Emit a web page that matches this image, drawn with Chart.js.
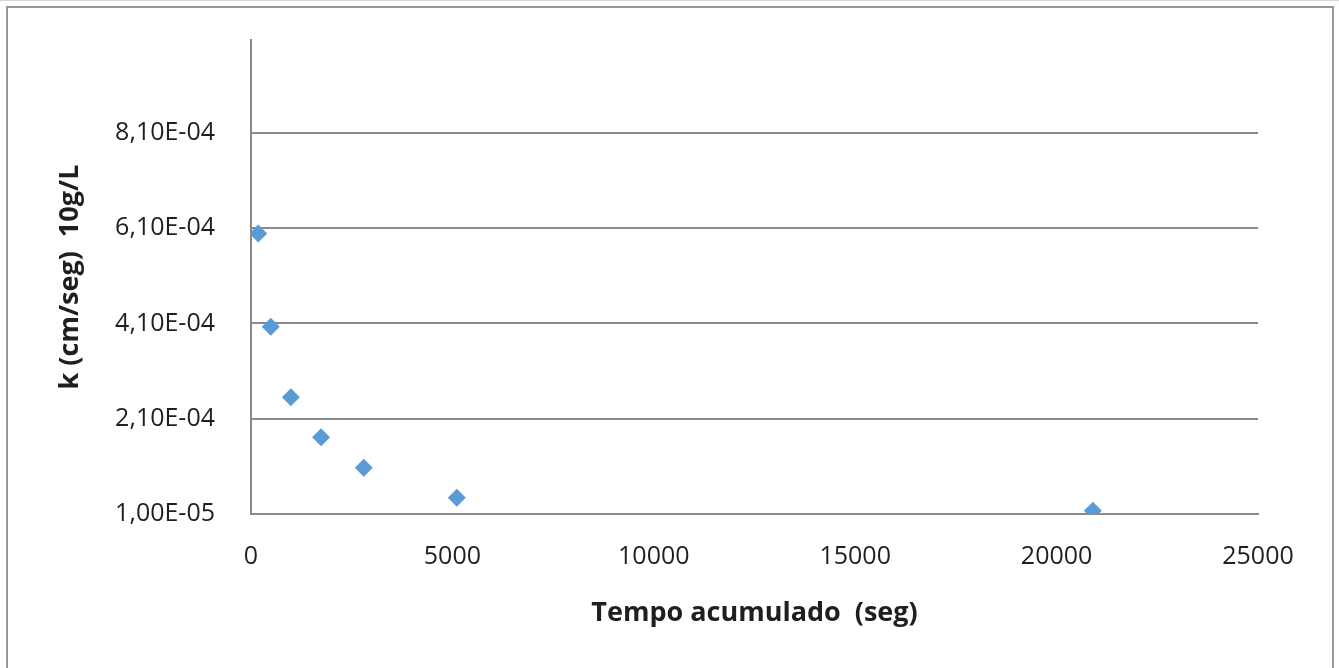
<!DOCTYPE html>
<html>
<head>
<meta charset="utf-8">
<script src="https://cdn.jsdelivr.net/npm/chart.js@4"></script>
<style>
  html, body { margin: 0; padding: 0; background: #fff; }
  #wrap { position: relative; width: 1339px; height: 668px; overflow: hidden; }
  #topline { position: absolute; left: 0; top: 0; width: 1339px; height: 1px; background: #d8d8d8; }
  #frame { position: absolute; left: 6px; top: 6px; width: 1328px; height: 700px;
           border: 2px solid #979797; box-sizing: border-box; }
  #c { position: absolute; left: 0; top: 0; }
</style>
</head>
<body>
<div id="wrap">
  <div id="topline"></div>
  <div id="frame"></div>
  <canvas id="c" width="1339" height="668"></canvas>
</div>
<script>
// ── Data ─────────────────────────────────────────────
const tempoSeg = [180, 490, 990, 1740, 2800, 5110, 20900];
const kValues  = [5.99e-4, 4.03e-4, 2.55e-4, 1.71e-4, 1.07e-4, 4.4e-5, 1.7e-5];
const yTicks   = [1.0e-5, 2.1e-4, 4.1e-4, 6.1e-4, 8.1e-4];
const xTicks   = [0, 5000, 10000, 15000, 20000, 25000];

const gridColor = '#8a8a8a';
const textColor = '#1f1f1f';
const tickFont  = { family: 'Open Sans', size: 25 };
const titleFont = { family: 'Open Sans', size: 27, weight: 'bold' };

function fmtSci(v) {
  // Excel style: 8,10E-04
  const exp = Math.floor(Math.log10(v) + 1e-9);
  const man = v / Math.pow(10, exp);
  const e = (exp < 0 ? '-' : '+') + String(Math.abs(exp)).padStart(2, '0');
  return man.toFixed(2).replace('.', ',') + 'E' + e;
}

new Chart(document.getElementById('c'), {
  type: 'scatter',
  data: {
    datasets: [{
      data: tempoSeg.map((x, i) => ({ x: x, y: kValues[i] })),
      backgroundColor: '#5b9bd5',
      borderColor: '#5b9bd5',
      pointStyle: 'rectRot',
      pointRadius: 9,
      borderWidth: 0
    }]
  },
  options: {
    responsive: false,
    animation: false,
    layout: { padding: { left: 54, top: 40, right: 81, bottom: 0 } },
    plugins: { legend: { display: false }, tooltip: { enabled: false } },
    scales: {
      x: {
        type: 'linear',
        min: 0, max: 25000,
        afterBuildTicks: s => { s.ticks = xTicks.map(v => ({ value: v })); },
        afterFit: s => { s.height = 668 - 514; s.paddingLeft = 0; s.paddingRight = 0; },
        grid: { display: false, drawTicks: false },
        border: { display: true, color: gridColor, width: 2 },
        ticks: { color: textColor, font: tickFont, padding: 28, maxRotation: 0,
                 callback: v => String(v) },
        title: { display: true, text: 'Tempo acumulado  (seg)', color: textColor,
                 font: titleFont, padding: { top: 0, bottom: 38 } }
      },
      y: {
        type: 'linear',
        min: 1.0e-5, max: 1.005e-3,
        afterBuildTicks: s => { s.ticks = yTicks.map(v => ({ value: v })); },
        afterFit: s => { s.width = 251 - 54; s.paddingTop = 0; s.paddingBottom = 0; },
        grid: { color: gridColor, lineWidth: 2, drawTicks: false },
        border: { display: true, color: gridColor, width: 2 },
        ticks: { color: textColor, font: tickFont, padding: 36, callback: v => fmtSci(v) },
        title: { display: true, text: 'k (cm/seg)  10g/L', color: textColor,
                 font: titleFont, padding: 0 }
      }
    }
  }
});
</script>
</body>
</html>
